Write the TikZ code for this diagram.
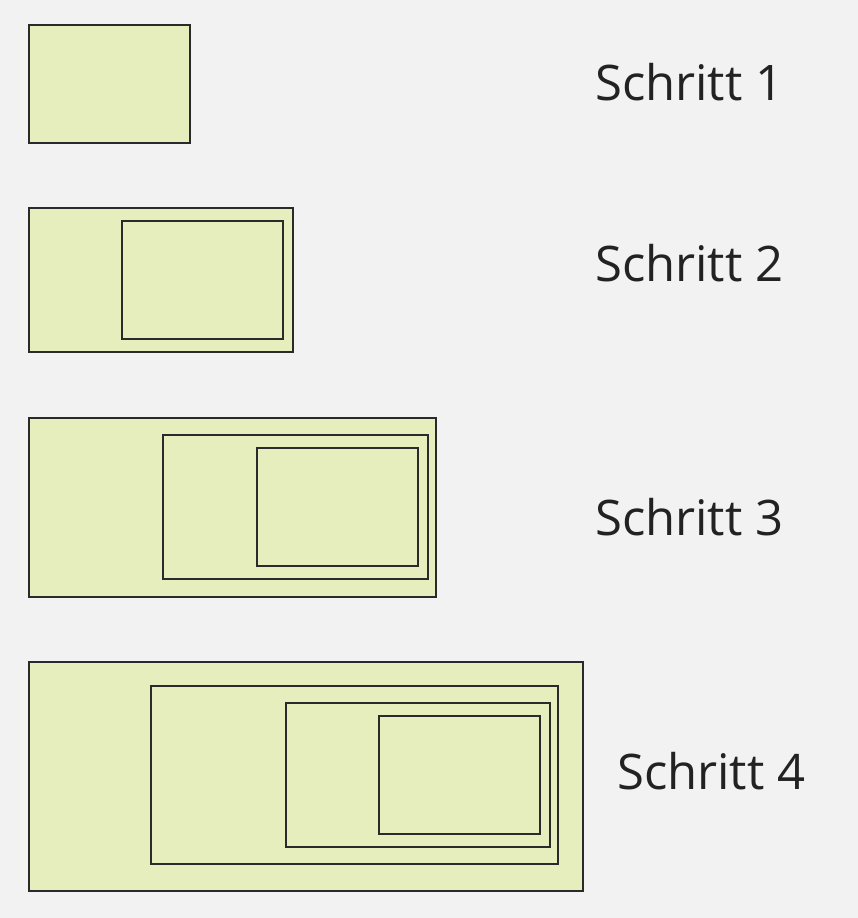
\documentclass[tikz,border=0pt]{standalone}
\usepackage{fontspec}
\setmainfont{Open Sans}

\definecolor{bggray}{HTML}{F2F2F2}
\definecolor{boxgreen}{HTML}{E6EEBE}
\definecolor{linegray}{HTML}{2A2A2A}
\definecolor{textgray}{HTML}{222222}

\begin{document}
\begin{tikzpicture}[x=1pt,y=-1pt]

\tikzset{%
    box/.style={draw=linegray,fill=boxgreen,line width=1.2pt},
    steplabel/.style={anchor=base west,inner sep=0pt,text=textgray,font=\fontsize{49}{59}\selectfont},
}

% background
\fill [bggray] (0,0) rectangle (858,918);
\useasboundingbox (0,0) rectangle (858,918);

% step 1
\draw [box] (29,25) rectangle (190,143);
\node [steplabel] (s1) at (595,100) {Schritt 1};

% step 2
\draw [box] (29,208) rectangle (293,352);
\draw [box] (122,221) rectangle (283,339);
\node [steplabel] (s2) at (595,281) {Schritt 2};

% step 3
\draw [box] (29,418) rectangle (436,597);
\draw [box] (163,435) rectangle (428,579);
\draw [box] (257,448) rectangle (418,566);
\node [steplabel] (s3) at (595,535) {Schritt 3};

% step 4
\draw [box] (29,662) rectangle (583,891);
\draw [box] (151,686) rectangle (558,864);
\draw [box] (286,703) rectangle (550,847);
\draw [box] (379,716) rectangle (540,834);
\node [steplabel] (s4) at (617,789) {Schritt 4};

\end{tikzpicture}
\end{document}
